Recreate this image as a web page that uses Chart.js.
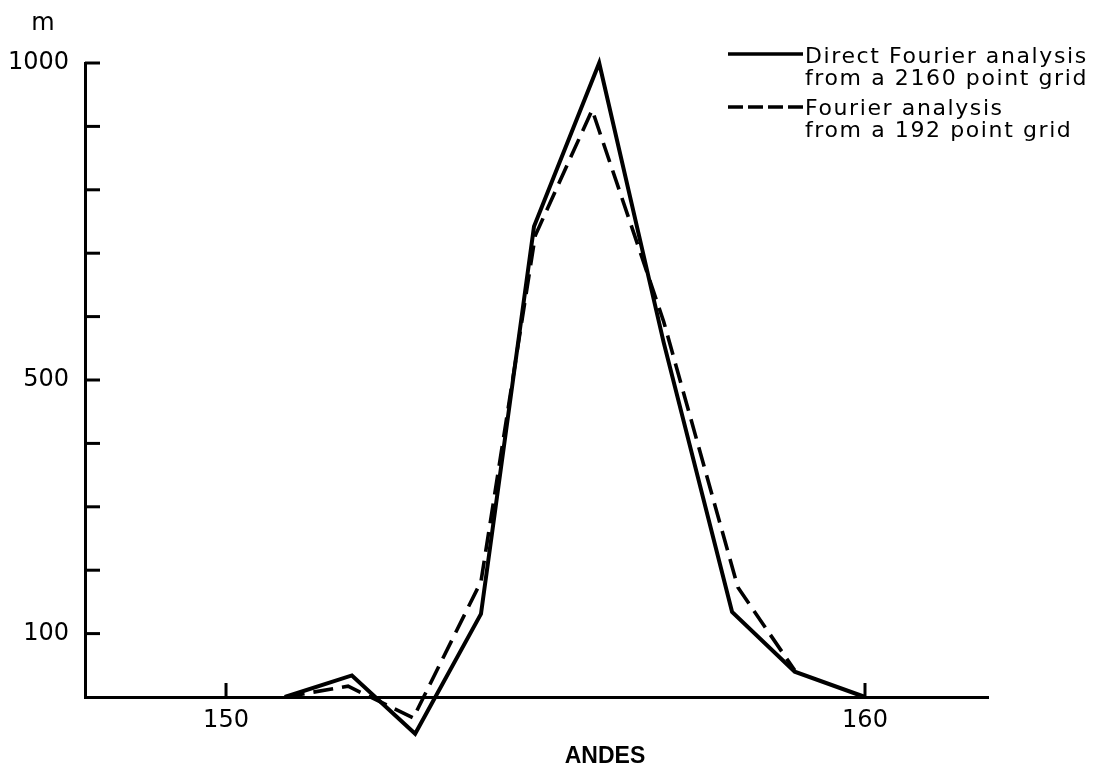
<!DOCTYPE html>
<html><head><meta charset="utf-8">
<script src="https://cdn.jsdelivr.net/npm/chart.js@4.4.0/dist/chart.umd.min.js"></script>
<style>html,body{margin:0;padding:0;background:#fff;}#wrap{width:1103px;height:767px;position:relative;}</style>
</head><body><div id="wrap"><canvas id="c" width="1103" height="767"></canvas></div>
<script>
// ---- data ----
const xTickValues = [150, 160];
const yTickLabels = [100, 500, 1000];
const yTickMarks = [100, 200, 300, 400, 500, 600, 700, 800, 900, 1000];
const solidX = [150.92, 151.97, 152.96, 153.99, 154.82, 155.84, 156.85, 157.92, 158.90, 160.0];
const solidY = [0, 34, -58, 131, 742, 1000, 559, 134, 40, 0];
const dashedX = [150.92, 151.91, 152.93, 153.99, 154.84, 155.73, 156.85, 158.01, 158.90];
const dashedY = [0, 17, -33, 182, 728, 926, 592, 173, 42];
const legendSolid = ['Direct Fourier analysis', 'from a 2160 point grid'];
const legendDashed = ['Fourier analysis', 'from a 192 point grid'];
const xTitle = 'ANDES';
const yUnit = 'm';

const toPts = (xs, ys) => xs.map((x, i) => ({x: x, y: ys[i]}));

Chart.defaults.font.family = '"DejaVu Sans", sans-serif';
Chart.defaults.color = '#000';

const decor = {
  id: 'decor',
  beforeDraw(chart) {
    const c = chart.ctx;
    c.save(); c.fillStyle = '#fff'; c.fillRect(0, 0, chart.width, chart.height); c.restore();
  },
  afterDraw(chart) {
    const c = chart.ctx, xs = chart.scales.x, ys = chart.scales.y, a = chart.chartArea;
    c.save();
    c.strokeStyle = '#000'; c.lineWidth = 3; c.lineCap = 'butt';
    // y tick marks (inward)
    yTickMarks.forEach(v => {
      const y = ys.getPixelForValue(v);
      c.beginPath(); c.moveTo(a.left, y); c.lineTo(a.left + 15, y); c.stroke();
    });
    // x tick marks (upward)
    xTickValues.forEach(v => {
      const x = xs.getPixelForValue(v);
      c.beginPath(); c.moveTo(x, a.bottom); c.lineTo(x, a.bottom - 14); c.stroke();
    });
    // unit label
    c.fillStyle = '#000';
    c.font = '24px "DejaVu Sans"';
    c.textAlign = 'center'; c.textBaseline = 'alphabetic';
    c.fillText(yUnit, 43, 30);
    // x title
    c.font = 'bold 23px "Liberation Sans"';
    c.fillText(xTitle, 605, 763);
    // legend
    c.textAlign = 'left';
    c.font = '22px "DejaVu Sans"';
    try { c.letterSpacing = '1.6px'; } catch (e) {}
    c.beginPath(); c.moveTo(728, 54); c.lineTo(803, 54); c.lineWidth = 3.5; c.stroke();
    c.fillText(legendSolid[0], 805, 63);
    c.fillText(legendSolid[1], 805, 85);
    c.setLineDash([15, 5]);
    c.beginPath(); c.moveTo(728, 107); c.lineTo(803, 107); c.stroke();
    c.setLineDash([]);
    c.fillText(legendDashed[0], 805, 115);
    c.fillText(legendDashed[1], 805, 137);
    c.restore();
  }
};

new Chart(document.getElementById('c'), {
  type: 'line',
  data: {
    datasets: [
      {label: legendSolid.join(' '), data: toPts(solidX, solidY), borderColor: '#000', borderWidth: 4,
       pointRadius: 0, tension: 0, clip: false, fill: false, borderJoinStyle: 'miter'},
      {label: legendDashed.join(' '), data: toPts(dashedX, dashedY), borderColor: '#000', borderWidth: 3.6,
       borderDash: [20, 9], pointRadius: 0, tension: 0, clip: false, fill: false, borderJoinStyle: 'miter'}
    ]
  },
  options: {
    responsive: false,
    devicePixelRatio: 1,
    animation: false,
    layout: {padding: {left: 0, right: 115, top: 63, bottom: 0}},
    plugins: {legend: {display: false}, tooltip: {enabled: false}},
    scales: {
      x: {
        type: 'linear', min: 147.793, max: 161.925,
        grid: {display: false},
        border: {display: true, color: '#000', width: 3},
        afterBuildTicks: s => { s.ticks = xTickValues.map(v => ({value: v})); },
        afterFit: s => { s.height = 70; },
        ticks: {font: {size: 24}, padding: 1, maxRotation: 0, callback: v => String(v)}
      },
      y: {
        type: 'linear', min: 0, max: 1000,
        grid: {display: false},
        border: {display: true, color: '#000', width: 3},
        afterBuildTicks: s => { s.ticks = yTickLabels.map(v => ({value: v})); },
        afterFit: s => { s.width = 85; },
        ticks: {font: {size: 24}, padding: 8, callback: v => String(v)}
      }
    }
  },
  plugins: [decor]
});
</script></body></html>
